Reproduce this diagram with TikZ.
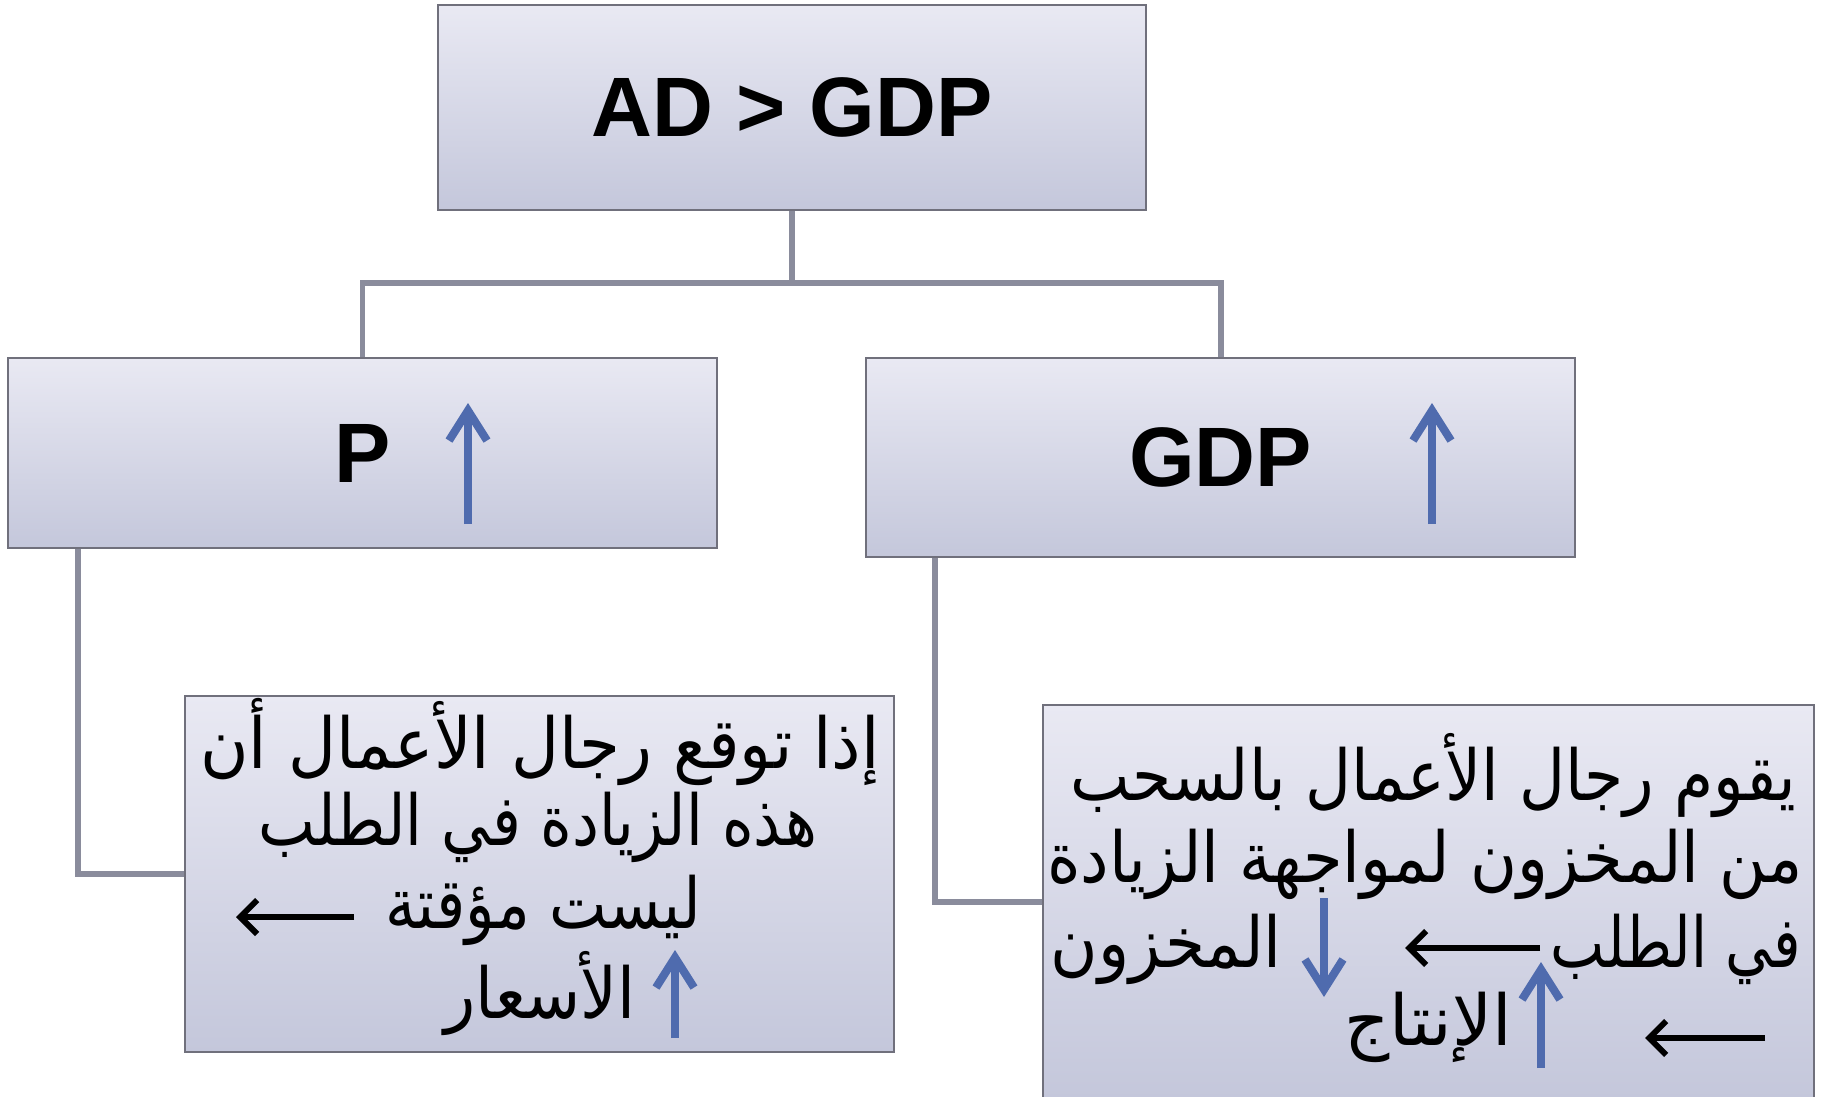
\documentclass[tikz,border=0pt]{standalone}
\usepackage{fontspec}
\setmainfont{Liberation Sans}
\newfontfamily\arabicfont[Script=Arabic]{DejaVu Sans}
\TeXXeTstate=1
\usetikzlibrary{arrows.meta}

\definecolor{boxtop}{RGB}{233,233,243}
\definecolor{boxbot}{RGB}{196,199,219}
\definecolor{boxline}{RGB}{112,112,124}
\definecolor{connline}{RGB}{138,140,156}
\definecolor{upblue}{RGB}{79,107,174}

% squeeze a line of text sideways
\newcommand{\narrow}[2]{\scalebox{#1}[1]{#2}}

\tikzset{
  box/.style={draw=boxline, line width=0.6pt, top color=boxtop, bottom color=boxbot, inner sep=0pt},
  conn/.style={draw=connline, line width=1.7pt},
  big/.style={font=\bfseries\fontsize{24}{28}\selectfont},
  arab/.style={font=\arabicfont\fontsize{20}{24}\selectfont, anchor=base, inner sep=0pt},
  bluearrow/.style={draw=upblue, line width=2.3pt, -{Straight Barb[length=0.3cm,width=0.38cm]}},
  blackarrow/.style={draw=black, line width=1.7pt, -{Straight Barb[length=0.17cm,width=0.34cm]}},
}

\begin{document}
\begin{tikzpicture}
  \useasboundingbox (0,0) rectangle (18.21,10.96);

  % Boxes
  \node[box, big, minimum width=7.08cm, minimum height=2.05cm] (top) at (7.92,9.885) {AD > GDP};
  \node[box, big, minimum width=7.09cm, minimum height=1.90cm] (pbox) at (3.625,6.43) {P};
  \node[box, big, minimum width=7.09cm, minimum height=1.99cm] (gbox) at (12.205,6.385) {GDP};
  \node[box, minimum width=7.09cm, minimum height=3.56cm] (lbox) at (5.395,2.22) {};
  \node[box, minimum width=7.71cm, minimum height=3.94cm] (rbox) at (14.285,1.94) {};

  % Connectors
  \draw[conn] (top.south) -- ++(0,-0.72) -| (pbox.north);
  \draw[conn] (top.south) -- ++(0,-0.72) -| (gbox.north);
  \draw[conn] ([xshift=0.71cm]pbox.south west) |- (lbox.west);
  \draw[conn] ([xshift=0.70cm]gbox.south west) |- (rbox.west);

  % Up arrows next to P and GDP
  \draw[bluearrow] (4.68,5.72) -- (4.68,6.93);
  \draw[bluearrow] (14.32,5.72) -- (14.32,6.93);

  % Left text
  \node[arab] (l1) at (5.40,3.28) {\narrow{0.94}{\beginR إذا توقع رجال الأعمال أن\endR}};
  \node[arab] (l2) at (5.38,2.51) {\narrow{0.86}{\beginR هذه الزيادة في الطلب\endR}};
  \node[arab] (l3) at (5.43,1.68) {\narrow{0.87}{\beginR ليست مؤقتة\endR}};
  \node[arab] (l4) at (5.40,0.78) {\narrow{0.92}{\beginR الأسعار\endR}};
  \draw[blackarrow] (3.54,1.79) -- (2.36,1.79);
  \draw[bluearrow] (6.75,0.58) -- (6.75,1.46);

  % Right text
  \node[arab] (r1) at (14.33,2.96) {\narrow{0.90}{\beginR يقوم رجال الأعمال بالسحب\endR}};
  \node[arab] (r2) at (14.25,2.14) {\narrow{0.91}{\beginR من المخزون لمواجهة الزيادة\endR}};
  \node[arab, anchor=base east] (r3a) at (18.02,1.29) {\narrow{0.82}{\beginR في الطلب\endR}};
  \node[arab, anchor=base west] (r3b) at (10.50,1.29) {\narrow{0.92}{\beginR المخزون\endR}};
  \node[arab] (r4) at (14.28,0.51) {\beginR الإنتاج\endR};
  \draw[blackarrow] (15.40,1.48) -- (14.05,1.48);
  \draw[bluearrow] (13.24,1.98) -- (13.24,0.99);
  \draw[bluearrow] (15.41,0.28) -- (15.41,1.34);
  \draw[blackarrow] (17.65,0.58) -- (16.45,0.58);
\end{tikzpicture}
\end{document}
